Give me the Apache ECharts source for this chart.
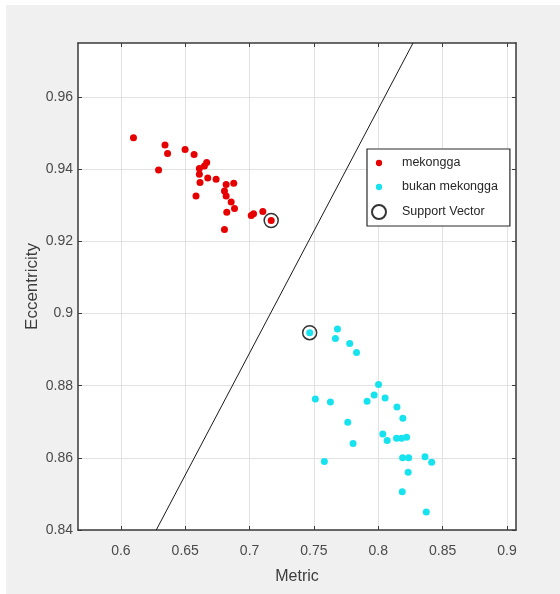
<!DOCTYPE html>
<html>
<head>
<meta charset="utf-8">
<script src="https://cdn.jsdelivr.net/npm/echarts@6/dist/echarts.min.js"></script>
<style>
  html, body { margin: 0; padding: 0; background: #ffffff; }
  #chart { position: absolute; left: 6px; top: 5px; width: 554px; height: 589px; }
</style>
</head>
<body>
<div id="chart"></div>
<script>
// ---- data ----
const seriesNames = ['mekongga', 'bukan mekongga', 'Support Vector'];

const mekonggaX = [0.6098, 0.6343, 0.6363, 0.6499, 0.6569, 0.6293, 0.6667, 0.6649, 0.6610, 0.6610,
                   0.6615, 0.6675, 0.6740, 0.6818, 0.6877, 0.6805, 0.6818, 0.6584, 0.6857, 0.6883,
                   0.6823, 0.7013, 0.7031, 0.7103, 0.7168, 0.6805];
const mekonggaY = [0.9487, 0.9467, 0.9444, 0.9455, 0.9441, 0.9398, 0.9419, 0.9409, 0.9402, 0.9386,
                   0.9363, 0.9376, 0.9372, 0.9358, 0.9361, 0.9340, 0.9326, 0.9326, 0.9309, 0.9291,
                   0.9281, 0.9272, 0.9277, 0.9283, 0.9258, 0.9233];

const bukanX = [0.7467, 0.7683, 0.7667, 0.7778, 0.7831, 0.8002, 0.7968, 0.7913, 0.8053, 0.7511,
                0.7628, 0.8145, 0.8191, 0.7763, 0.8035, 0.8069, 0.8142, 0.8181, 0.8220, 0.7804,
                0.8189, 0.8236, 0.8363, 0.8415, 0.7581, 0.8232, 0.8186, 0.8373];
const bukanY = [0.8947, 0.8957, 0.8931, 0.8917, 0.8892, 0.8803, 0.8774, 0.8757, 0.8766, 0.8763,
                0.8755, 0.8741, 0.8710, 0.8699, 0.8666, 0.8648, 0.8654, 0.8654, 0.8657, 0.8640,
                0.8600, 0.8600, 0.8603, 0.8588, 0.8590, 0.8560, 0.8506, 0.8450];

const supportX = [0.7168, 0.7467];
const supportY = [0.9258, 0.8947];

const boundaryX = [0.6275, 0.8270];
const boundaryY = [0.8400, 0.9750];

const xTicks = [0.6, 0.65, 0.7, 0.75, 0.8, 0.85, 0.9];
const yTicks = [0.84, 0.86, 0.88, 0.9, 0.92, 0.94, 0.96];
const xRange = [0.5667, 0.907];
const yRange = [0.84, 0.975];

// ---- build ----
const zip = (xs, ys) => xs.map((x, i) => [x, ys[i]]);
const fmt = v => String(+v.toFixed(2));
const dotIcon = 'path://M0,0M20,20M5.5,10A4.5,4.5,0,1,1,14.5,10A4.5,4.5,0,1,1,5.5,10Z';

const axisColor = '#3a3a3a';
const labelColor = '#4a4a4a';
const gridColor = '#e2e2e2';
const font = 'Liberation Sans, Arial, sans-serif';

function mainAxis(range, ticks, name, isX) {
  return {
    type: 'value',
    min: range[0], max: range[1],
    name: name,
    nameLocation: 'middle',
    nameGap: isX ? 39 : 37,
    nameMoveOverlap: false,
    nameTextStyle: { color: '#3c3c3c', fontSize: isX ? 16 : 17, fontFamily: font },
    axisLine: { show: true, onZero: false, lineStyle: { color: axisColor, width: 1.5 } },
    axisTick: { show: true, inside: true, length: 4, customValues: ticks, lineStyle: { color: axisColor, width: 1 } },
    axisLabel: { show: true, customValues: ticks, formatter: fmt, color: labelColor, fontSize: 14, fontFamily: font, margin: isX ? 14 : 5 },
    splitLine: { show: true, lineStyle: { color: gridColor, width: 1 } }
  };
}
function mirrorAxis(range, ticks, pos) {
  return {
    type: 'value', position: pos,
    min: range[0], max: range[1],
    axisLine: { show: true, onZero: false, lineStyle: { color: axisColor, width: 1.5 } },
    axisTick: { show: true, inside: true, length: 4, customValues: ticks, lineStyle: { color: axisColor, width: 1 } },
    axisLabel: { show: false, customValues: ticks },
    splitLine: { show: false }
  };
}

const chart = echarts.init(document.getElementById('chart'), null, { renderer: 'canvas' });
chart.setOption({
  backgroundColor: '#f0f0f0',
  animation: false,
  grid: { left: 72, top: 38, right: 44, bottom: 64, show: true, backgroundColor: '#ffffff', borderWidth: 0 },
  xAxis: [mainAxis(xRange, xTicks, 'Metric', true), mirrorAxis(xRange, xTicks, 'top')],
  yAxis: [mainAxis(yRange, yTicks, 'Eccentricity', false), mirrorAxis(yRange, yTicks, 'right')],
  legend: {
    orient: 'vertical',
    left: 361, top: 144,
    backgroundColor: '#ffffff',
    borderColor: '#2a2a2a', borderWidth: 1.2, borderRadius: 0,
    padding: [7, 12, 6, 4],
    itemWidth: 36, itemHeight: 14, itemGap: 10,
    textStyle: { color: '#262626', fontSize: 12.5, fontFamily: font },
    data: [
      { name: seriesNames[0], icon: dotIcon },
      { name: seriesNames[1], icon: dotIcon },
      { name: seriesNames[2], icon: 'circle' }
    ]
  },
  series: [
    {
      type: 'line', name: 'boundary', data: zip(boundaryX, boundaryY),
      showSymbol: false, symbol: 'none', silent: true, clip: true,
      lineStyle: { color: '#1a1a1a', width: 1 }, z: 2
    },
    {
      type: 'scatter', name: seriesNames[0], data: zip(mekonggaX, mekonggaY),
      symbolSize: 7, itemStyle: { color: '#e60000', opacity: 1 }, z: 3
    },
    {
      type: 'scatter', name: seriesNames[1], data: zip(bukanX, bukanY),
      symbolSize: 7, itemStyle: { color: '#17e3ef', opacity: 1 }, z: 3
    },
    {
      type: 'scatter', name: seriesNames[2], data: zip(supportX, supportY),
      symbolSize: 14,
      itemStyle: { color: 'rgba(0,0,0,0)', borderColor: '#333333', borderWidth: 1.5, opacity: 1 }, z: 4
    }
  ]
});
</script>
</body>
</html>
